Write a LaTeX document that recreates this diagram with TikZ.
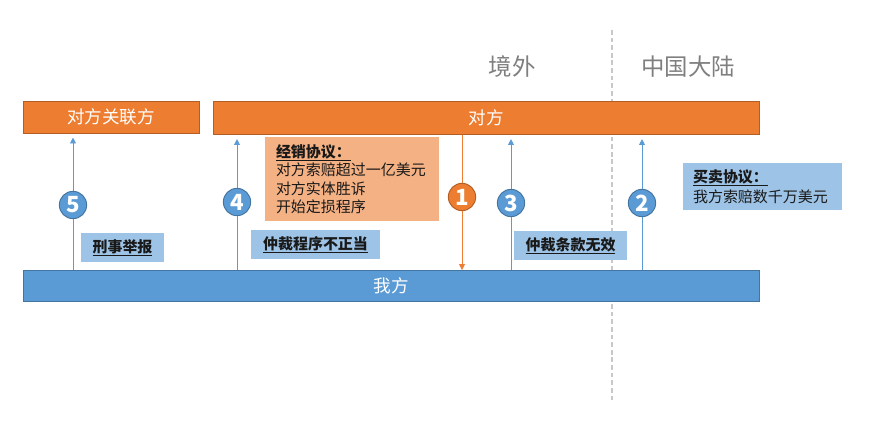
\documentclass[tikz,border=0pt]{standalone}
\usepackage{fontspec}
\setmainfont{Noto Sans CJK SC}
\usetikzlibrary{arrows.meta,positioning}
\definecolor{barorange}{HTML}{ED7D31}
\definecolor{barblue}{HTML}{5B9BD5}
\definecolor{noteorange}{HTML}{F4B183}
\definecolor{noteblue}{HTML}{9DC3E6}
\definecolor{regiongray}{HTML}{7F7F7F}
\definecolor{divgray}{HTML}{C8C8C8}

\begin{document}
\begin{tikzpicture}[x=0.03cm,y=-0.03cm,
  bar/.style={draw=#1!75!black,fill=#1,line width=0.8pt,text=white,inner sep=0pt,
    font=\fontsize{15}{18}\selectfont},
  note/.style={fill=#1,inner sep=0pt,text=black!90,font=\fontsize{12.8}{15.8}\selectfont},
  numcircle/.style={circle,fill=#1,draw=#1!75!black,line width=0.8pt,minimum size=0.82cm,
    inner sep=0pt,text=white,font=\fontsize{19}{19}\selectfont\bfseries},
  region/.style={text=regiongray,font=\fontsize{20}{24}\selectfont},
  link/.style={draw=#1,line width=0.7pt},
  tip/.style={-{Triangle[width=5pt,length=5pt]}}]
\useasboundingbox (0,0) rectangle (873,424);
% dividing line
\draw[divgray,line width=1.1pt,dash pattern=on 4pt off 2.5pt] (612,30)--(612,402);
\node[region] (jingwai) at (512,67) {境外};
\node[region] (dalu) at (688,67) {中国大陆};
% bars
\node[bar=barorange,minimum width=5.28cm,minimum height=0.96cm] (guanlian) at (111,117) {对方关联方};
\node[bar=barorange,minimum width=16.38cm,minimum height=0.99cm] (duifang) at (486,118) {对方};
\node[bar=barblue,minimum width=22.08cm,minimum height=0.93cm] (wofang) at (391,286) {我方};
% notes
\node[note=noteorange,minimum height=2.52cm,text width=4.56cm,inner xsep=0.33cm,align=left]
  (jingxiao) at (352,179) {\underline{\textbf{经销协议：}}\\对方索赔超过一亿美元\\对方实体胜诉\\开始定损程序};
\node[note=noteblue,minimum width=2.49cm,minimum height=0.87cm] (xingshi) at (122.5,247.5)
  {\underline{\textbf{刑事举报}}};
\node[note=noteblue,minimum width=3.87cm,minimum height=0.87cm] (chengxu) at (315.5,244.5)
  {\underline{\textbf{仲裁程序不正当}}};
\node[note=noteblue,minimum width=3.39cm,minimum height=0.87cm] (tiaokuan) at (570.5,245.5)
  {\underline{\textbf{仲裁条款无效}}};
\node[note=noteblue,minimum height=1.41cm,text width=4.17cm,inner xsep=0.3cm,align=left,
  font=\fontsize{12.8}{17}\selectfont] (maimai) at (762.5,186.5)
  {\underline{\textbf{买卖协议：}}\\我方索赔数千万美元};
% numbered steps
\node[numcircle=barblue] (c5) at (73,205) {5};
\node[numcircle=barblue] (c4) at (237,202) {4};
\node[numcircle=barorange] (c1) at (462,197) {1};
\node[numcircle=barblue] (c3) at (511,203) {3};
\node[numcircle=barblue] (c2) at (642,203) {2};
\draw[link=barblue] (wofang.north -| c5)--(c5.south);
\draw[link=barblue,tip,shorten >=3.5pt] (c5.north)--(guanlian.south -| c5);
\draw[link=barblue] (wofang.north -| c4)--(c4.south);
\draw[link=barblue,tip,shorten >=3.5pt] (c4.north)--(duifang.south -| c4);
\draw[link=barorange] (duifang.south -| c1)--(c1.north);
\draw[link=barorange,tip] (c1.south)--(wofang.north -| c1);
\draw[link=barblue] (wofang.north -| c3)--(c3.south);
\draw[link=barblue,tip,shorten >=3.5pt] (c3.north)--(duifang.south -| c3);
\draw[link=barblue] (wofang.north -| c2)--(c2.south);
\draw[link=barblue,tip,shorten >=3.5pt] (c2.north)--(duifang.south -| c2);
\end{tikzpicture}
\end{document}
